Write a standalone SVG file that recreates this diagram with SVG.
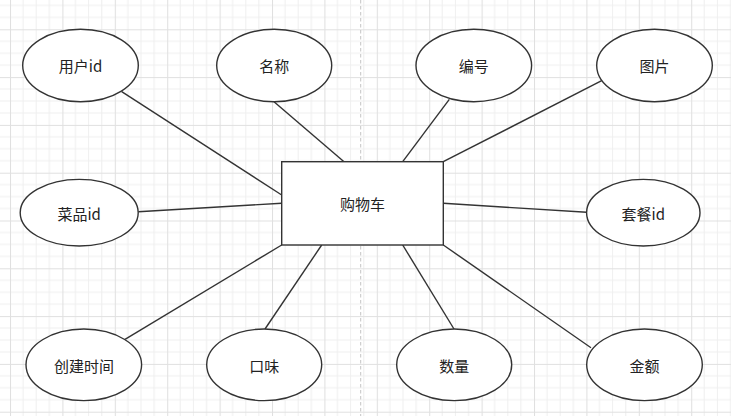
<svg xmlns="http://www.w3.org/2000/svg" width="731" height="416" viewBox="0 0 731 416">
<style>
.e{fill:#fff;stroke:#333;stroke-width:1.4}
.r{fill:#fff;stroke:#333;stroke-width:1.4}
.c line{stroke:#333;stroke-width:1.4}
text{font-family:"Noto Sans CJK SC","Microsoft YaHei",sans-serif;font-size:15px;fill:#222;text-anchor:middle;dominant-baseline:central}
</style>
<defs>
<pattern id="grid" patternUnits="userSpaceOnUse" x="10" y="29.3" width="52.4" height="47.8">
<rect width="52.4" height="47.8" fill="#fff"/>
<g stroke="#efefef" stroke-width="1">
<line x1="13.1" y1="0" x2="13.1" y2="47.8"/>
<line x1="26.2" y1="0" x2="26.2" y2="47.8"/>
<line x1="39.3" y1="0" x2="39.3" y2="47.8"/>
<line x1="0" y1="11.95" x2="52.4" y2="11.95"/>
<line x1="0" y1="23.9" x2="52.4" y2="23.9"/>
<line x1="0" y1="35.85" x2="52.4" y2="35.85"/>
</g>
<g stroke="#e0e0e0" stroke-width="1">
<line x1="0.5" y1="0" x2="0.5" y2="47.8"/>
<line x1="0" y1="0.5" x2="52.4" y2="0.5"/>
</g>
</pattern>
</defs>
<rect width="731" height="416" fill="url(#grid)"/>
<line x1="360.7" y1="0" x2="360.7" y2="416" stroke="#c4c4c4" stroke-width="1" stroke-dasharray="3.5 2.5"/>
<g class="c" id="connectors">
<line x1="121.7" y1="91.7" x2="281.7" y2="195"/>
<line x1="274" y1="101.7" x2="344" y2="161.7"/>
<line x1="449.3" y1="99.3" x2="402.7" y2="161.7"/>
<line x1="601.7" y1="80.7" x2="443.3" y2="161.7"/>
<line x1="138.3" y1="211.7" x2="281.7" y2="203.3"/>
<line x1="443.3" y1="203.3" x2="586.7" y2="212.3"/>
<line x1="125" y1="339.3" x2="281.7" y2="245"/>
<line x1="265" y1="329" x2="321.7" y2="245"/>
<line x1="454" y1="329" x2="402.7" y2="245"/>
<line x1="591" y1="347.7" x2="443.3" y2="245"/>
</g>
<g id="cart"><rect class="r" x="281.7" y="161.7" width="161.6" height="83.3"/><text x="362.5" y="203.3">购物车</text></g>
<g id="userid"><ellipse class="e" cx="80.5" cy="65.5" rx="57.8" ry="36.2"/><text x="80.5" y="65.7">用户id</text></g>
<g id="name"><ellipse class="e" cx="274.2" cy="65.5" rx="57.5" ry="36.2"/><text x="274.2" y="65.7">名称</text></g>
<g id="number"><ellipse class="e" cx="473.8" cy="65.5" rx="57.8" ry="36.2"/><text x="473.8" y="65.7">编号</text></g>
<g id="image"><ellipse class="e" cx="654.5" cy="65.5" rx="57.8" ry="36.2"/><text x="654.5" y="65.7">图片</text></g>
<g id="dishid"><ellipse class="e" cx="79.2" cy="212.7" rx="59" ry="33.3"/><text x="79.2" y="213">菜品id</text></g>
<g id="setmealid"><ellipse class="e" cx="643.3" cy="212.7" rx="56.7" ry="33.3"/><text x="643.3" y="213">套餐id</text></g>
<g id="createtime"><ellipse class="e" cx="83.8" cy="364.8" rx="57.8" ry="35.8"/><text x="84" y="365">创建时间</text></g>
<g id="flavor"><ellipse class="e" cx="264.2" cy="364.8" rx="57.5" ry="35.8"/><text x="264.2" y="365">口味</text></g>
<g id="quantity"><ellipse class="e" cx="454.2" cy="364.8" rx="57.5" ry="35.8"/><text x="454.2" y="365">数量</text></g>
<g id="amount"><ellipse class="e" cx="644.5" cy="364.8" rx="57.8" ry="35.8"/><text x="644.5" y="365">金额</text></g>
</svg>
